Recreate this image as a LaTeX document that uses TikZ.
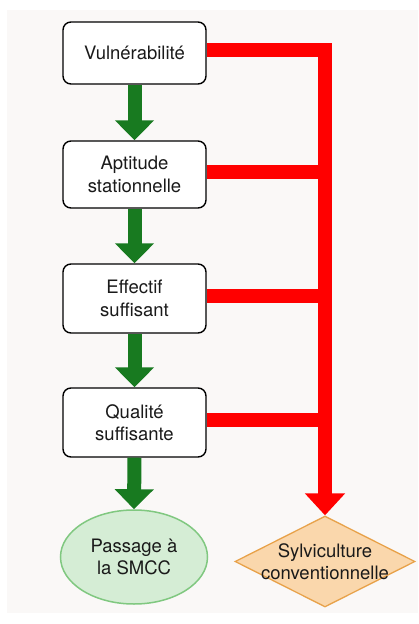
\documentclass[tikz,border=0pt]{standalone}
\usepackage{fontspec}
\setmainfont{TeX Gyre Heros}
\usetikzlibrary{arrows.meta,shapes.geometric}
\definecolor{bgc}{HTML}{FAF8F7}
\definecolor{gr}{RGB}{24,122,32}
\definecolor{rd}{RGB}{255,0,0}
\definecolor{ellf}{HTML}{D5EDD5}
\definecolor{elld}{HTML}{80C880}
\definecolor{diaf}{HTML}{FAD7AC}
\definecolor{diad}{HTML}{E8A24A}
\definecolor{txt}{HTML}{1A1A1A}
\begin{document}
\begin{tikzpicture}[x=1pt,y=-1pt,
  every node/.style={font=\fontsize{18.5}{22.5}\selectfont, text=txt},
  stepbox/.style={draw=black, line width=1.4pt, rounded corners=8pt, fill=white,
    minimum width=143pt, align=center, inner sep=0pt},
  garrow/.style={draw=gr, line width=14pt, -{Triangle[width=38pt,length=20pt]}, color=gr},
  redline/.style={draw=rd, line width=14pt, line join=miter},
  rarrow/.style={redline, -{Triangle[width=39pt,length=22pt]}, color=rd},
  endell/.style={ellipse, draw=elld, fill=ellf, line width=1.5pt, minimum width=147pt,
    minimum height=94pt, inner sep=0pt, align=center},
  enddia/.style={diamond, draw=diad, fill=diaf, line width=1.3pt, minimum width=180pt,
    minimum height=91pt, inner sep=0pt}
]
\useasboundingbox (0,0) rectangle (418,624);
\fill[bgc] (7,10) rectangle (418,613);

\node[stepbox, minimum height=62pt] (v) at (134.5,53) {Vuln\'erabilit\'e};
\node[stepbox, minimum height=67pt] (a) at (134.5,174.5) {Aptitude\\stationnelle};
\node[stepbox, minimum height=69pt] (e) at (134.5,298.5) {Effectif\\suffisant};
\node[stepbox, minimum height=69pt] (q) at (134.5,422.5) {Qualit\'e\\suffisante};
\node[endell] (p) at (134,557) {Passage \`a\\la SMCC};
\node[enddia] (d) at (325,561.5) {};
\node[align=center] (dt) at (d.center) {Sylviculture\\conventionnelle};

\draw[garrow] (v.south) -- (a.north);
\draw[garrow] (a.south) -- (e.north);
\draw[garrow] (e.south) -- (q.north);
\draw[garrow] (q.south) -- (p.north);

\coordinate (v2) at ([yshift=3pt]v.east);
\coordinate (a2) at ([yshift=3pt]a.east);
\coordinate (e2) at ([yshift=3pt]e.east);
\coordinate (q2) at ([yshift=3pt]q.east);
\draw[redline] (a2) -- (a2 -| d.north);
\draw[redline] (e2) -- (e2 -| d.north);
\draw[redline] (q2) -- (q2 -| d.north);
\draw[rarrow] (v2) -| (d.north);
\end{tikzpicture}
\end{document}
